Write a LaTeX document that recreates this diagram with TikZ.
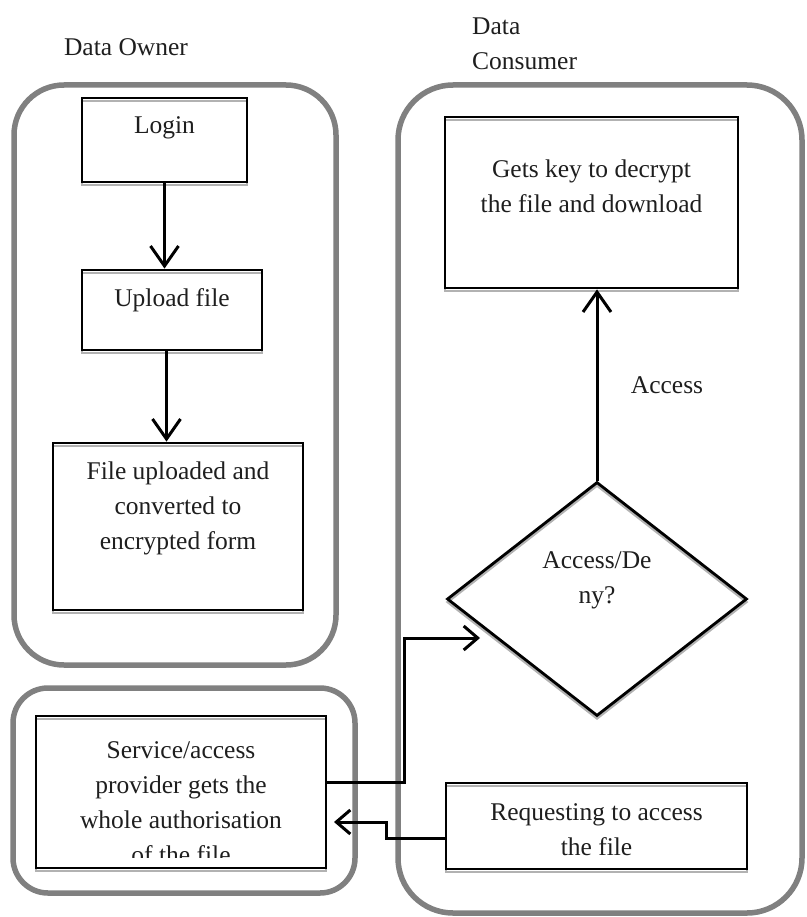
\documentclass[tikz,border=0pt]{standalone}
\usepackage{fontspec}
\setmainfont{Liberation Serif}
\usetikzlibrary{shapes.geometric,arrows.meta}
\definecolor{lanegray}{RGB}{128,128,128}
\definecolor{inkgray}{RGB}{30,30,30}
\begin{document}
\begin{tikzpicture}[x=1pt,y=-1pt,
  lane/.style={draw=lanegray, line width=5.5pt, rounded corners=#1},
  box/.style={rectangle, draw=black, line width=2.8pt, inner sep=0pt,
    preaction={draw=black!30, line width=2.4pt, transform canvas={yshift=-3pt}}},
  lbl/.style={font=\fontsize{25.5}{35}\selectfont, align=center, text=inkgray, inner sep=0pt},
  arr/.style={draw=black, line width=3pt, -{Straight Barb[length=20pt,width=28pt]}},
  sarr/.style={draw=black, line width=3pt, -{Straight Barb[length=14pt,width=24pt]}},
]
\useasboundingbox (0,0) rectangle (806,917);

% swim lanes
\draw[lane=50pt] (14,85) rectangle (336,665);
\draw[lane=55pt] (398,85) rectangle (802,913);
\draw[lane=35pt] (13,688) rectangle (355,893);

% lane titles
\node[lbl, anchor=center] (owner) at (126,47) {Data Owner};
\node[lbl, align=left, anchor=west] (consumer) at (472,44) {Data\\Consumer};

% data owner boxes
\node[box, minimum width=165pt, minimum height=84pt] (login) at (164.5,140) {};
\node[lbl] (logint) at (164.5,128) {Login};
\node[box, minimum width=180pt, minimum height=80pt] (upload) at (172,310) {};
\node[lbl] (uploadt) at (172,300) {Upload file};
\node[box, minimum width=250pt, minimum height=167pt] (file) at (178,526.5) {};
\node[lbl] (filet) at (178,508) {File uploaded and\\converted to\\encrypted form};

% data consumer boxes
\node[box, minimum width=293pt, minimum height=171pt] (gets) at (591.5,202.5) {};
\node[lbl] (getst) at (591.5,186) {Gets key to decrypt\\the file and download};
\node[diamond, draw=black, line width=2.8pt, inner sep=0pt,
  minimum width=300pt, minimum height=234pt,
  preaction={draw=black!30, line width=2.4pt, transform canvas={yshift=-3pt}}] (dia) at (597,599) {};
\node[lbl] (diat) at (597,580) {Access/De\\ny?};
\node[box, minimum width=301pt, minimum height=86pt] (req) at (596.5,826) {};
\node[lbl] (reqt) at (596.5,830) {Requesting to access\\the file};

% service provider box, last line cut off by the box edge
\node[box, minimum width=290pt, minimum height=152pt] (serv) at (181,792) {};
\begin{scope}
  \clip (36,716) rectangle (326,857);
  \node[lbl] (servt) at (181,803) {Service/access\\provider gets the\\whole authorisation\\of the file};
\end{scope}

\node[lbl] (acc) at (667,385) {Access};

% connectors
\draw[arr] (login.south) -- (login.south |- upload.north);
\draw[arr] ([xshift=2pt]upload.south -| login.south) -- ([xshift=2pt]file.north -| login.south);
\draw[arr] (dia.north) -- (dia.north |- gets.south);

\coordinate (bendA) at (404,638);
\coordinate (tipA) at (480,638);
\draw[sarr] ([yshift=10pt]serv.east) -| (bendA) -- (tipA);

\coordinate (bendB) at (386,822);
\coordinate (tipB) at (334,822);
\draw[sarr] ([yshift=-12pt]req.west) -| (bendB) -- (tipB);
\end{tikzpicture}
\end{document}
